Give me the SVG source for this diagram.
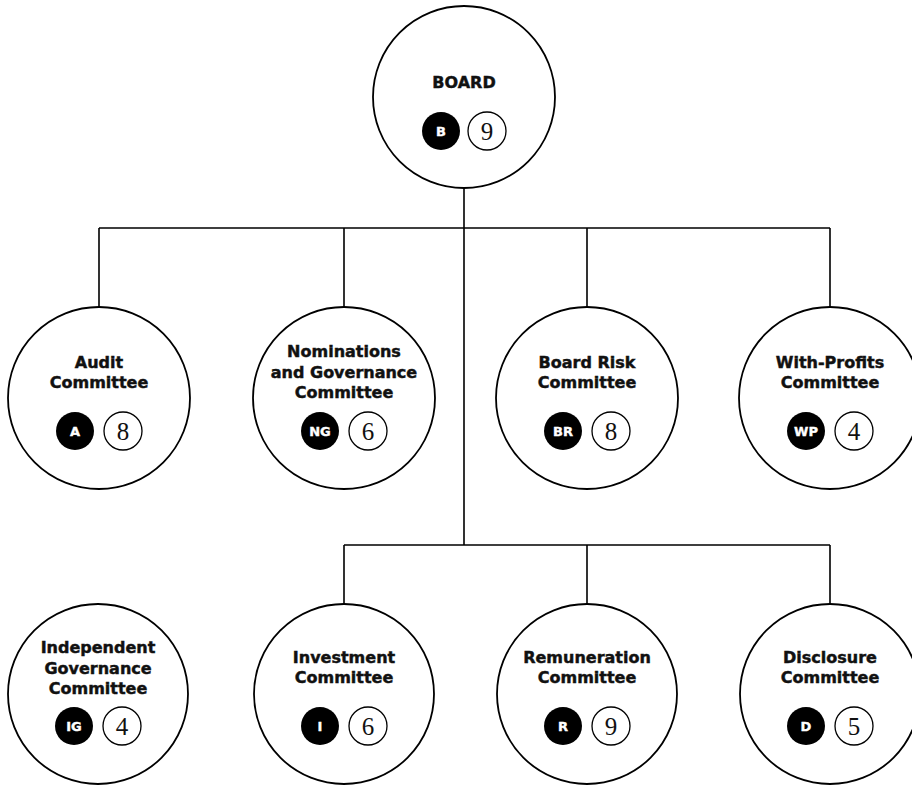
<svg xmlns="http://www.w3.org/2000/svg" width="912" height="785" viewBox="0 0 912 785">
<style>
.node{fill:#fff;stroke:#000;stroke-width:1.8}
.title{font-family:"DejaVu Sans","Liberation Sans",sans-serif;font-weight:bold;font-size:16px;fill:#111;stroke:#111;stroke-width:0.45;text-anchor:middle}
.bdg{fill:#000}
.bdt{font-family:"DejaVu Sans","Liberation Sans",sans-serif;font-weight:bold;font-size:13px;fill:#fff;stroke:#fff;stroke-width:0.4;text-anchor:middle}
.num{fill:#fff;stroke:#000;stroke-width:1.3}
.nt{font-family:"Liberation Serif","Times New Roman",serif;font-size:25px;fill:#111;text-anchor:middle}
.conn{fill:none;stroke:#000;stroke-width:1.6}
</style>
<rect width="912" height="785" fill="#fff"/>
<g id="connectors">
<path class="conn" d="M464 188 V545 M99 228 H830 M99 228 V307 M344 228 V307 M587 228 V307 M830 228 V307 M344 545 H830 M344 545 V603 M587 545 V603 M830 545 V603"/>
</g>
<g id="board">
<circle class="node" cx="464" cy="97" r="91"/>
<text class="title" x="464" y="88">BOARD</text>
<circle class="bdg" cx="441" cy="131" r="19"/><text class="bdt" x="441" y="136">B</text>
<circle class="num" cx="487" cy="131" r="19"/><text class="nt" x="487" y="139.5">9</text>
</g>
<g id="audit">
<circle class="node" cx="99" cy="398" r="91"/>
<text class="title" x="99" y="368">Audit</text>
<text class="title" x="99" y="388">Committee</text>
<circle class="bdg" cx="75" cy="431" r="19"/><text class="bdt" x="75" y="436">A</text>
<circle class="num" cx="123" cy="431" r="19"/><text class="nt" x="123" y="439.5">8</text>
</g>
<g id="nominations">
<circle class="node" cx="344" cy="398" r="91"/>
<text class="title" x="344" y="357">Nominations</text>
<text class="title" x="344" y="377.5">and Governance</text>
<text class="title" x="344" y="398">Committee</text>
<circle class="bdg" cx="320" cy="431" r="19"/><text class="bdt" x="320" y="436">NG</text>
<circle class="num" cx="368" cy="431" r="19"/><text class="nt" x="368" y="439.5">6</text>
</g>
<g id="boardrisk">
<circle class="node" cx="587" cy="398" r="91"/>
<text class="title" x="587" y="368">Board Risk</text>
<text class="title" x="587" y="388">Committee</text>
<circle class="bdg" cx="563" cy="431" r="19"/><text class="bdt" x="563" y="436">BR</text>
<circle class="num" cx="611" cy="431" r="19"/><text class="nt" x="611" y="439.5">8</text>
</g>
<g id="withprofits">
<circle class="node" cx="830" cy="398" r="91"/>
<text class="title" x="830" y="368">With-Profits</text>
<text class="title" x="830" y="388">Committee</text>
<circle class="bdg" cx="806" cy="431" r="19"/><text class="bdt" x="806" y="436">WP</text>
<circle class="num" cx="854" cy="431" r="19"/><text class="nt" x="854" y="439.5">4</text>
</g>
<g id="independent">
<circle class="node" cx="98" cy="694" r="90"/>
<text class="title" x="98" y="653">Independent</text>
<text class="title" x="98" y="673.5">Governance</text>
<text class="title" x="98" y="694">Committee</text>
<circle class="bdg" cx="74" cy="726" r="19"/><text class="bdt" x="74" y="731">IG</text>
<circle class="num" cx="122" cy="726" r="19"/><text class="nt" x="122" y="734.5">4</text>
</g>
<g id="investment">
<circle class="node" cx="344" cy="694" r="90"/>
<text class="title" x="344" y="663">Investment</text>
<text class="title" x="344" y="683">Committee</text>
<circle class="bdg" cx="320" cy="726" r="19"/><text class="bdt" x="320" y="731">I</text>
<circle class="num" cx="368" cy="726" r="19"/><text class="nt" x="368" y="734.5">6</text>
</g>
<g id="remuneration">
<circle class="node" cx="587" cy="694" r="90"/>
<text class="title" x="587" y="663">Remuneration</text>
<text class="title" x="587" y="683">Committee</text>
<circle class="bdg" cx="563" cy="726" r="19"/><text class="bdt" x="563" y="731">R</text>
<circle class="num" cx="611" cy="726" r="19"/><text class="nt" x="611" y="734.5">9</text>
</g>
<g id="disclosure">
<circle class="node" cx="830" cy="694" r="90"/>
<text class="title" x="830" y="663">Disclosure</text>
<text class="title" x="830" y="683">Committee</text>
<circle class="bdg" cx="806" cy="726" r="19"/><text class="bdt" x="806" y="731">D</text>
<circle class="num" cx="854" cy="726" r="19"/><text class="nt" x="854" y="734.5">5</text>
</g>
</svg>
